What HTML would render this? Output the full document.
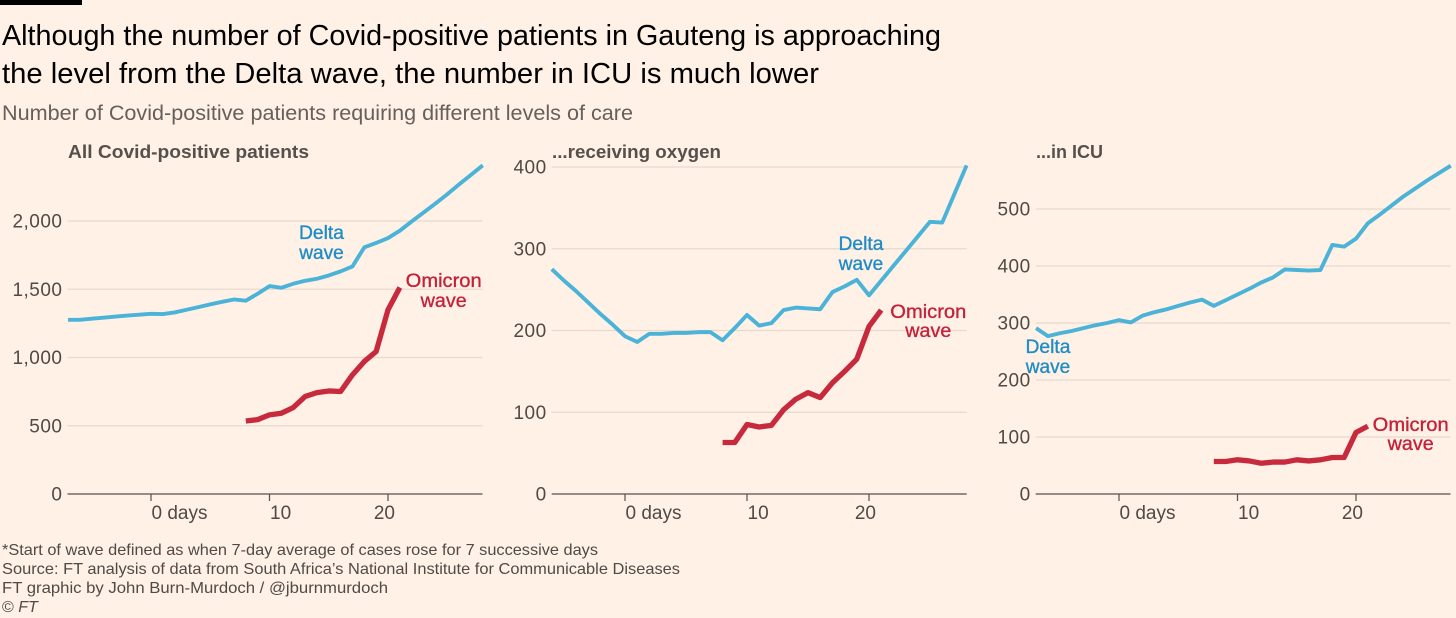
<!DOCTYPE html>
<html lang="en">
<head>
<meta charset="utf-8">
<title>Covid-positive patients in Gauteng</title>
<style>
html,body{margin:0;padding:0;background:#fff1e5;}
body{width:1456px;height:618px;overflow:hidden;font-family:"Liberation Sans",sans-serif;}
svg{display:block;font-family:"Liberation Sans",sans-serif;}
.tick{font-size:19px;fill:#4f4a46;}
.ptitle{font-size:18px;font-weight:bold;fill:#55504c;}
.foot{font-size:16px;fill:#4f4a46;}
.delta{font-size:19.5px;fill:#1f8cc6;stroke:#1f8cc6;stroke-width:.35px;text-anchor:middle;}
.omicron{font-size:19.5px;fill:#c4213a;stroke:#c4213a;stroke-width:.35px;text-anchor:middle;}
</style>
</head>
<body>
<svg id="chart" width="1456" height="618" viewBox="0 0 1456 618" xmlns="http://www.w3.org/2000/svg">
  <rect x="0" y="0" width="1456" height="618" fill="#fff1e5"/>
  <rect x="0" y="0" width="82" height="5" fill="#000"/>
  <text x="2" y="45" font-size="28.5" fill="#000" textLength="939" lengthAdjust="spacingAndGlyphs">Although the number of Covid-positive patients in Gauteng is approaching</text>
  <text x="2" y="83" font-size="28.5" fill="#000" textLength="817" lengthAdjust="spacingAndGlyphs">the level from the Delta wave, the number in ICU is much lower</text>
  <text x="2" y="120" font-size="21" fill="#66605c" textLength="631" lengthAdjust="spacingAndGlyphs">Number of Covid-positive patients requiring different levels of care</text>

  <text class="ptitle" x="68" y="158" textLength="241" lengthAdjust="spacingAndGlyphs">All Covid-positive patients</text>
  <text class="ptitle" x="552" y="158" textLength="169" lengthAdjust="spacingAndGlyphs">...receiving oxygen</text>
  <text class="ptitle" x="1036" y="158" textLength="67" lengthAdjust="spacingAndGlyphs">...in ICU</text>

  <g id="plots"></g>

  <text class="delta" x="321.5" y="239" textLength="45" lengthAdjust="spacingAndGlyphs">Delta</text>
  <text class="delta" x="321.5" y="259" textLength="44.5" lengthAdjust="spacingAndGlyphs">wave</text>
  <text class="omicron" x="443.7" y="287" textLength="76" lengthAdjust="spacingAndGlyphs">Omicron</text>
  <text class="omicron" x="443.7" y="307" textLength="46" lengthAdjust="spacingAndGlyphs">wave</text>
  <text class="delta" x="861" y="250" textLength="45" lengthAdjust="spacingAndGlyphs">Delta</text>
  <text class="delta" x="861" y="270" textLength="44.5" lengthAdjust="spacingAndGlyphs">wave</text>
  <text class="omicron" x="928.3" y="318" textLength="76" lengthAdjust="spacingAndGlyphs">Omicron</text>
  <text class="omicron" x="928.3" y="337" textLength="46" lengthAdjust="spacingAndGlyphs">wave</text>
  <text class="delta" x="1048" y="353" textLength="45" lengthAdjust="spacingAndGlyphs">Delta</text>
  <text class="delta" x="1048" y="373" textLength="44.5" lengthAdjust="spacingAndGlyphs">wave</text>
  <text class="omicron" x="1410.7" y="431" textLength="76" lengthAdjust="spacingAndGlyphs">Omicron</text>
  <text class="omicron" x="1410.7" y="450" textLength="46" lengthAdjust="spacingAndGlyphs">wave</text>

  <text class="foot" x="2" y="555" textLength="596" lengthAdjust="spacingAndGlyphs">*Start of wave defined as when 7-day average of cases rose for 7 successive days</text>
  <text class="foot" x="2" y="574" textLength="678" lengthAdjust="spacingAndGlyphs">Source: FT analysis of data from South Africa’s National Institute for Communicable Diseases</text>
  <text class="foot" x="2" y="593" textLength="386" lengthAdjust="spacingAndGlyphs">FT graphic by John Burn-Murdoch / @jburnmurdoch</text>
  <text class="foot" x="2" y="612">© <tspan font-style="italic">FT</tspan></text>
</svg>
<script>
const xTickValues = [0, 10, 20];
const xTickLabels = ["0 days", "10", "20"];

const daysAll = [-7,-6,-5,-4,-3,-2,-1,0,1,2,3,4,5,6,7,8,9,10,11,12,13,14,15,16,17,18,19,20,21,22,23,24,25,26,27,28];
const daysOxygen = [-6,-5,-4,-3,-2,-1,0,1,2,3,4,5,6,7,8,9,10,11,12,13,14,15,16,17,18,19,20,21,22,23,24,25,26,27,28];
const daysOmicron = [8,9,10,11,12,13,14,15,16,17,18,19,20,21];

const deltaAll = [1276,1276,1284,1292,1300,1307,1314,1320,1318,1330,1350,1369,1389,1408,1425,1416,1467,1523,1511,1540,1562,1577,1601,1631,1667,1807,1839,1875,1929,1997,2062,2128,2196,2268,2338,2408];
const omicronAll = [535,545,580,592,633,714,743,755,751,873,971,1044,1350,1513];
const yTicksAll = [0,500,1000,1500,2000];
const yLabelsAll = ["0","500","1,000","1,500","2,000"];

const deltaOxygen = [275,261,248,234,220,207,193,186,196,196,197,197,198,198,188,203,219,206,209,225,228,227,226,247,254,262,243,261,279,297,315,333,332,367,402];
const omicronOxygen = [63,63,85,82,84,103,116,124,118,136,150,165,205,225];
const yTicksOxygen = [0,100,200,300,400];
const yLabelsOxygen = ["0","100","200","300","400"];

const deltaIcu = [291,277,282,286,291,296,300,305,301,313,319,324,330,336,341,330,340,350,360,371,380,394,393,392,393,437,434,448,475,490,506,522,536,550,563,576];
const omicronIcu = [57,57,60,58,54,56,56,60,58,60,64,64,108,119];
const yTicksIcu = [0,100,200,300,400,500];
const yLabelsIcu = ["0","100","200","300","400","500"];

const NS = "http://www.w3.org/2000/svg";
const plots = document.getElementById("plots");

function linear(d0, d1, r0, r1) {
  return function (v) { return r0 + (v - d0) * (r1 - r0) / (d1 - d0); };
}

function drawPanel(key, layout, yTicks, yLabels, deltaDays, deltaValues, omicronValues) {
  const x = linear(layout.dayA, layout.dayB, layout.xA, layout.xB);
  const y = linear(0, layout.refValue, layout.y0, layout.yRef);
  const group = document.createElementNS(NS, "g");
  
  
  plots.appendChild(group);

  yTicks.forEach(function (v, i) {
    if (v !== 0) {
      const grid = document.createElementNS(NS, "line");
      
      
      grid.setAttribute("x1", layout.left);
      grid.setAttribute("x2", layout.right);
      grid.setAttribute("y1", y(v));
      grid.setAttribute("y2", y(v));
      grid.setAttribute("stroke", "#e7d9cd");
      grid.setAttribute("stroke-width", "1.2");
      group.appendChild(grid);
    }
    const label = document.createElementNS(NS, "text");
    
    
    label.setAttribute("class", "tick");
    label.setAttribute("x", layout.left - 5);
    label.setAttribute("y", y(v) + 6.5);
    label.setAttribute("text-anchor", "end");
    label.setAttribute("style", "letter-spacing:.5px");
    label.textContent = yLabels[i];
    group.appendChild(label);
  });

  const axis = document.createElementNS(NS, "line");
  
  
  axis.setAttribute("x1", layout.left);
  axis.setAttribute("x2", layout.right);
  axis.setAttribute("y1", layout.y0);
  axis.setAttribute("y2", layout.y0);
  axis.setAttribute("stroke", "#55504c");
  axis.setAttribute("stroke-width", "1.3");
  group.appendChild(axis);

  xTickValues.forEach(function (v, i) {
    const tick = document.createElementNS(NS, "line");
    
    
    tick.setAttribute("x1", x(v));
    tick.setAttribute("x2", x(v));
    tick.setAttribute("y1", layout.y0);
    tick.setAttribute("y2", layout.y0 + 7);
    tick.setAttribute("stroke", "#55504c");
    tick.setAttribute("stroke-width", "1.2");
    group.appendChild(tick);
    const label = document.createElementNS(NS, "text");
    const lastTick = i === xTickValues.length - 1;
    
    
    label.setAttribute("class", "tick");
    label.setAttribute("x", lastTick ? x(v) + 7 : x(v) + 0.5);
    label.setAttribute("text-anchor", lastTick ? "end" : "start");
    label.setAttribute("y", layout.y0 + 25);
    label.textContent = xTickLabels[i];
    group.appendChild(label);
  });

  const deltaLine = document.createElementNS(NS, "polyline");
  
  
  deltaLine.setAttribute("fill", "none");
  deltaLine.setAttribute("stroke", "#4bb3d8");
  deltaLine.setAttribute("stroke-width", "3.9");
  deltaLine.setAttribute("stroke-linejoin", "round");
  deltaLine.setAttribute("points", deltaValues.map(function (v, i) { return x(deltaDays[i]) + "," + y(v); }).join(" "));
  group.appendChild(deltaLine);

  const omicronLine = document.createElementNS(NS, "polyline");
  
  
  omicronLine.setAttribute("fill", "none");
  omicronLine.setAttribute("stroke", "#c72a3d");
  omicronLine.setAttribute("stroke-width", "5.3");
  omicronLine.setAttribute("stroke-linejoin", "round");
  omicronLine.setAttribute("points", omicronValues.map(function (v, i) { return x(daysOmicron[i]) + "," + y(v); }).join(" "));
  group.appendChild(omicronLine);
}

drawPanel("all",
  {dayA: 0, dayB: 20, xA: 151, xB: 388, left: 67.5, right: 482.5, y0: 494, refValue: 2000, yRef: 221},
  yTicksAll, yLabelsAll, daysAll, deltaAll, omicronAll);
drawPanel("oxygen",
  {dayA: 0, dayB: 20, xA: 625, xB: 869, left: 551.7, right: 966.7, y0: 494, refValue: 400, yRef: 167},
  yTicksOxygen, yLabelsOxygen, daysOxygen, deltaOxygen, omicronOxygen);
drawPanel("icu",
  {dayA: 0, dayB: 20, xA: 1119, xB: 1356, left: 1035.7, right: 1450.5, y0: 494, refValue: 500, yRef: 209},
  yTicksIcu, yLabelsIcu, daysAll, deltaIcu, omicronIcu);
</script>
</body>
</html>
